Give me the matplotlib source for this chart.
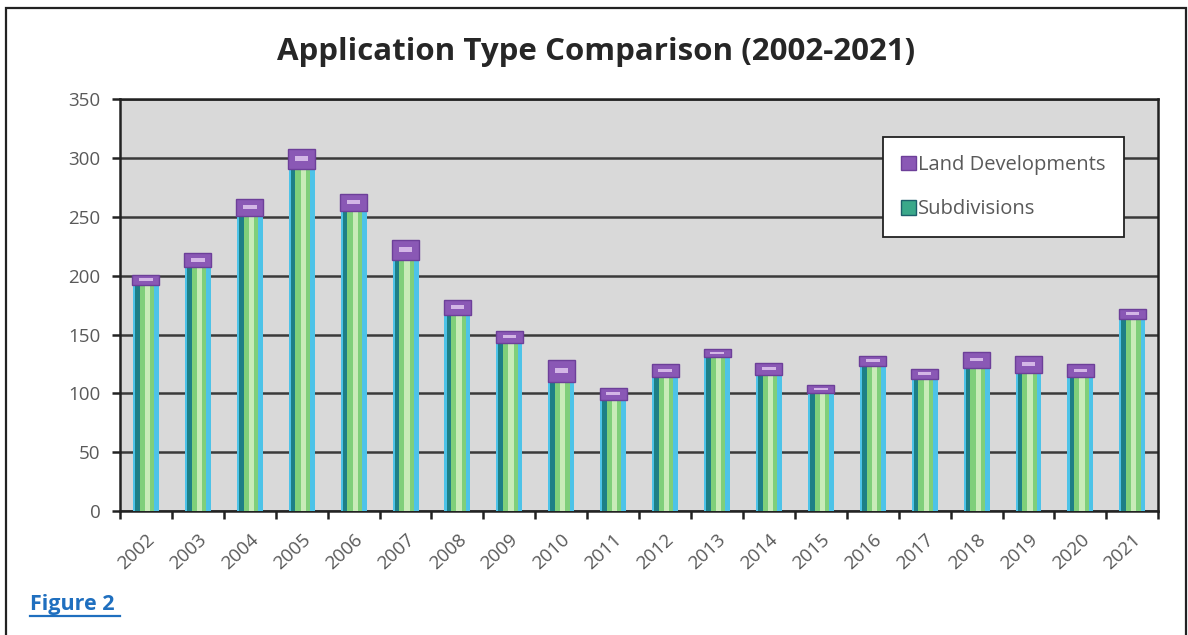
import numpy as np
import matplotlib.pyplot as plt
from matplotlib.patches import Rectangle, Patch

years = [str(y) for y in range(2002, 2022)]
subdivisions = [192, 207, 251, 291, 255, 213, 167, 143, 110, 94,
                114, 131, 116, 100, 123, 112, 122, 117, 114, 163]
land_dev = [9, 12, 14, 17, 14, 17, 12, 10, 18, 11,
            11, 7, 10, 7, 9, 9, 13, 15, 11, 9]

plt.rcParams['font.family'] = ['Open Sans', 'DejaVu Sans']

fig = plt.figure(figsize=(11.88, 6.35), dpi=100)
ax = fig.add_axes([0.101, 0.195, 0.874, 0.649])
ax.set_facecolor('#d9d9d9')

x = np.arange(len(years))
sub = np.array(subdivisions)
land = np.array(land_dev)

# subdivisions: layered bars to fake the gradient look
ax.bar(x, sub, width=0.50, color='#4dc3e8', zorder=3)
ax.bar(x - 0.06, sub, width=0.30, color='#1d7f86', zorder=4)
ax.bar(x + 0.02, sub, width=0.28, color='#7fcf7a', zorder=5)
ax.bar(x + 0.03, sub, width=0.10, color='#c8ebb8', zorder=6)

# land developments cap
ax.bar(x, land, bottom=sub, width=0.52, color='#8a58b5', edgecolor='#6d3f99',
       linewidth=1, zorder=7)
ax.bar(x, land * 0.25, bottom=sub + land * 0.4, width=0.26, color='#d3b6e6', zorder=8)

ax.set_ylim(0, 350)
ax.set_xlim(-0.5, 19.5)
ax.set_yticks(range(0, 351, 50))
ax.yaxis.grid(True, color='#3a3a3a', linewidth=1.8, zorder=1)
ax.set_axisbelow(True)

ax.set_xticks(np.arange(-0.5, 20, 1))
ax.set_xticklabels([])
ax.set_xticks(x, minor=True)
ax.set_xticklabels(years, minor=True, rotation=43, ha='right',
                   rotation_mode='anchor', fontsize=13.5, color='#595959')
ax.tick_params(axis='x', which='minor', length=0, pad=14)
ax.tick_params(axis='x', which='major', length=6, width=1.8, color='#222222')
ax.tick_params(axis='y', length=6, width=1.8, color='#222222',
               labelsize=13.5, labelcolor='#595959', pad=8)
for s in ax.spines.values():
    s.set_color('#222222')
    s.set_linewidth(1.8)

handles = [Patch(facecolor='#8a58b5', edgecolor='#6d3f99'),
           Patch(facecolor='#3aa88a', edgecolor='#1d5f6b')]
leg = ax.legend(handles, ['Land Developments', 'Subdivisions'],
                loc='upper right', bbox_to_anchor=(0.967, 0.908),
                fontsize=14.5, labelcolor='#595959', frameon=True, fancybox=False,
                edgecolor='#222222', facecolor='white', framealpha=1,
                handlelength=0.75, handleheight=0.75, handletextpad=0.1,
                labelspacing=1.2, borderpad=0.9, borderaxespad=0)
leg.get_frame().set_linewidth(1.3)

fig.text(0.502, 0.918, 'Application Type Comparison (2002-2021)', ha='center',
         va='center', fontsize=22.5, fontweight='bold', color='#262626')
fig.text(0.025, 0.04, 'Figure 2', fontsize=15.5, fontweight='bold',
         color='#1f6fbf', ha='left', va='baseline')
fig.add_artist(plt.Line2D([0.025, 0.101], [0.030, 0.030], color='#1f6fbf',
                          linewidth=1.6, transform=fig.transFigure))

fig.patches.append(Rectangle((0.005, -0.01), 0.993, 0.997, fill=False,
                             edgecolor='#222222', linewidth=1.6,
                             transform=fig.transFigure, figure=fig))

fig.savefig('out.png', dpi=100)
